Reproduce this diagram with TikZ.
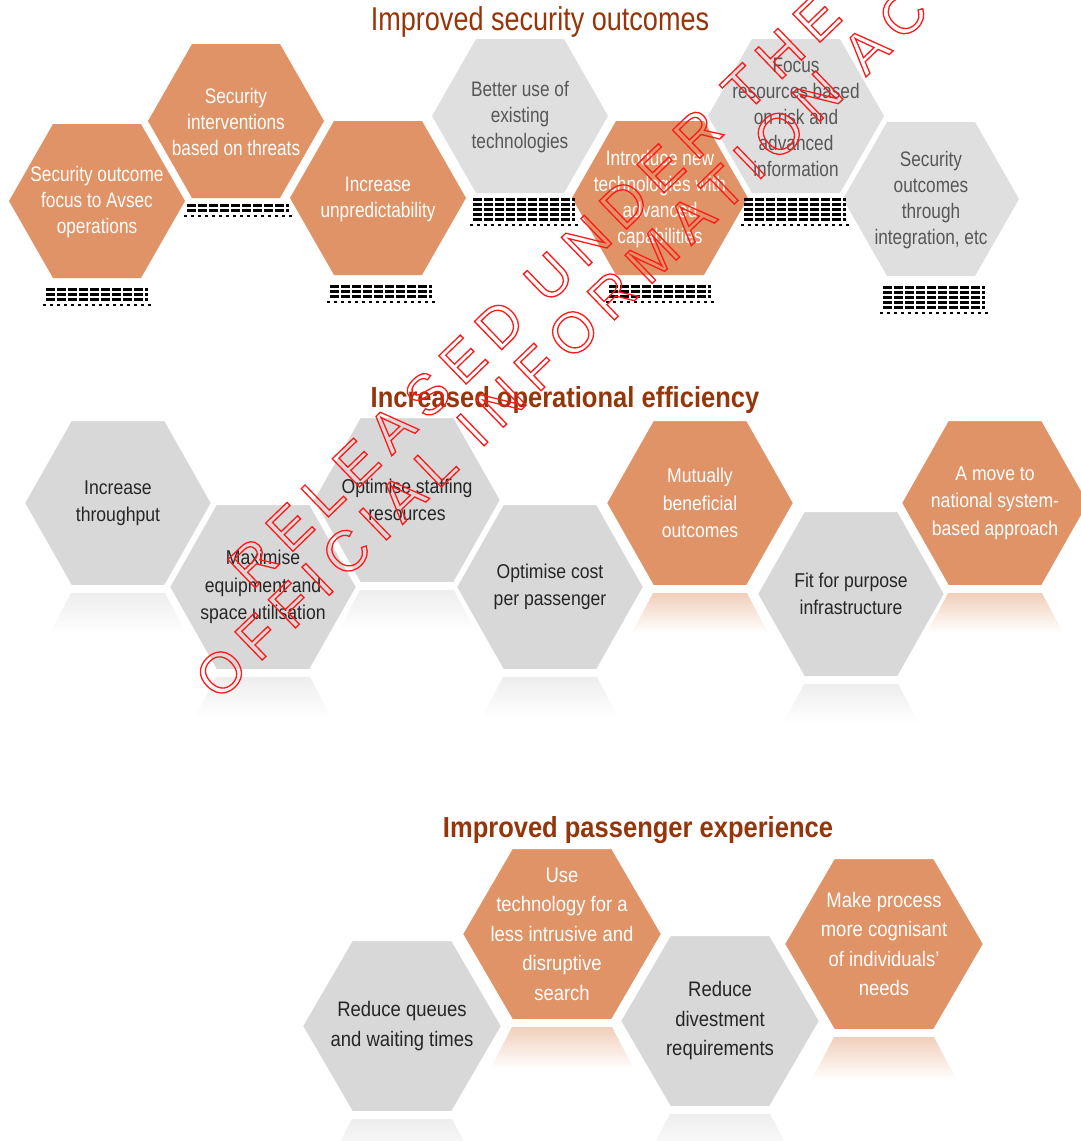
\documentclass[tikz,border=0pt]{standalone}
\usepackage{fontspec}
\setmainfont{Liberation Sans}
\newfontfamily\narrowfont{Liberation Sans}[FakeStretch=0.82]
\newfontfamily\tightfont{Liberation Sans}[FakeStretch=0.88]
\newfontfamily\stampfont{Liberation Sans}[LetterSpace=20]
\usepackage{xcolor}
\definecolor{hexorange}{HTML}{E09366}
\definecolor{hexgray}{HTML}{E0DFE0}
\definecolor{hexgraydark}{HTML}{D9D8D9}
\definecolor{hexink}{HTML}{575757}
\definecolor{hexinkdark}{HTML}{262626}
\definecolor{titlebrown}{HTML}{963509}
\definecolor{stampred}{HTML}{FF1A1A}
\newcommand\outlinetext[1]{\special{pdf:literal direct 1 Tr 1.3 w}#1\special{pdf:literal direct 0 Tr}}

\begin{document}
\begin{tikzpicture}[x=1pt, y=-1pt,
    hextext/.style={align=center, inner sep=0pt},
    title/.style={text=titlebrown, inner sep=0pt},
    stamp/.style={font=\stampfont\fontsize{57}{57}\selectfont, text=stampred, inner sep=0pt, rotate=44, anchor=west}]
  \useasboundingbox[fill=white] (0,0) rectangle (1081,1141);

  \node[title, font=\narrowfont\fontsize{33}{33}\selectfont] (tsec) at (540,22) {Improved security outcomes};
  \foreach \n/\x/\y/\c/\f/\t in {1/97/201/hexorange/white/{Security outcome\\focus to Avsec\\operations},
      2/236/121/hexorange/white/{Security\\interventions\\based on threats},
      3/378/198/hexorange/white/{Increase\\unpredictability},
      4/520/116/hexgray/hexink/{Better use of\\existing\\technologies},
      5/660/198/hexorange/white/{Introduce new\\technologies with\\advanced\\capabilities},
      6/796/116/hexgray/hexink/{Focus\\resources based\\on risk and\\advanced\\information},
      7/931/199/hexgray/hexink/{Security\\outcomes\\through\\integration, etc}} {
    \fill[\c] (\x-88,\y) -- (\x-44,\y-77) -- (\x+44,\y-77) -- (\x+88,\y) -- (\x+44,\y+77) -- (\x-44,\y+77) -- cycle;
    \node[hextext, text=\f, font=\narrowfont\fontsize{21}{26}\selectfont] (s\n) at (\x,\y+1) {\t};
  }
  \foreach \x/\y/\m in {97/289/10, 238/205/5, 381/286/10, 524/199/20, 660/286/10, 795/199/20, 934/287/20} {
    \foreach \d in {0,5,...,\m}
      \draw[line width=3pt, dash pattern=on 9pt off 2pt] (\x-51,\y+\d) -- (\x+51,\y+\d);
    \draw[line width=2.5pt, dash pattern=on 3pt off 4pt] (\x-54,\y+\m+6) -- (\x+54,\y+\m+6);
  }

  \node[title, font=\tightfont\bfseries\fontsize{29}{29}\selectfont] (teff) at (565,400) {Increased operational efficiency};
  \foreach \n/\x/\y/\c/\f/\t in {1/118/503/hexgraydark/hexinkdark/{Increase\\throughput},
      2/263/587/hexgraydark/hexinkdark/{Maximise\\equipment and\\space utilisation},
      3/407/500/hexgraydark/hexinkdark/{Optimise staffing\\resources},
      4/550/587/hexgraydark/hexinkdark/{Optimise cost\\per passenger},
      5/700/503/hexorange/white/{Mutually\\beneficial\\outcomes},
      6/851/594/hexgraydark/hexinkdark/{Fit for purpose\\infrastructure},
      7/995/503/hexorange/white/{A move to\\national system-\\based approach}} {
    \shade[top color=\c!45, bottom color=white] (\x-47,\y+90) -- (\x+47,\y+90) -- (\x+68,\y+130) -- (\x-68,\y+130) -- cycle;
    \filldraw[fill=\c, draw=white, line width=2pt] (\x-94,\y) -- (\x-47,\y-83) -- (\x+47,\y-83) -- (\x+94,\y) -- (\x+47,\y+83) -- (\x-47,\y+83) -- cycle;
    \node[hextext, text=\f, font=\tightfont\fontsize{20}{27.5}\selectfont] (e\n) at (\x,\y) {\t};
  }

  \node[title, font=\tightfont\bfseries\fontsize{29}{29}\selectfont] (tpax) at (638,830) {Improved passenger experience};
  \foreach \n/\x/\y/\c/\f/\t in {1/402/1026/hexgraydark/hexinkdark/{Reduce queues\\and waiting times},
      2/562/934/hexorange/white/{Use\\technology for a\\less intrusive and\\disruptive\\search},
      3/720/1021/hexgraydark/hexinkdark/{Reduce\\divestment\\requirements},
      4/884/944/hexorange/white/{Make process\\more cognisant\\of individuals’\\needs}} {
    \shade[top color=\c!45, bottom color=white] (\x-50,\y+93) -- (\x+50,\y+93) -- (\x+72,\y+135) -- (\x-72,\y+135) -- cycle;
    \filldraw[fill=\c, draw=white, line width=2pt] (\x-100,\y) -- (\x-50,\y-86) -- (\x+50,\y-86) -- (\x+100,\y) -- (\x+50,\y+86) -- (\x-50,\y+86) -- cycle;
    \node[hextext, text=\f, font=\tightfont\fontsize{21}{29.5}\selectfont] (p\n) at (\x,\y) {\t};
  }

  \node[stamp] (wm1) at (238,577) {\outlinetext{RELEASED UNDER THE}};
  \node[stamp] (wm2) at (205,688) {\outlinetext{OFFICIAL INFORMATION ACT}};
\end{tikzpicture}
\end{document}
